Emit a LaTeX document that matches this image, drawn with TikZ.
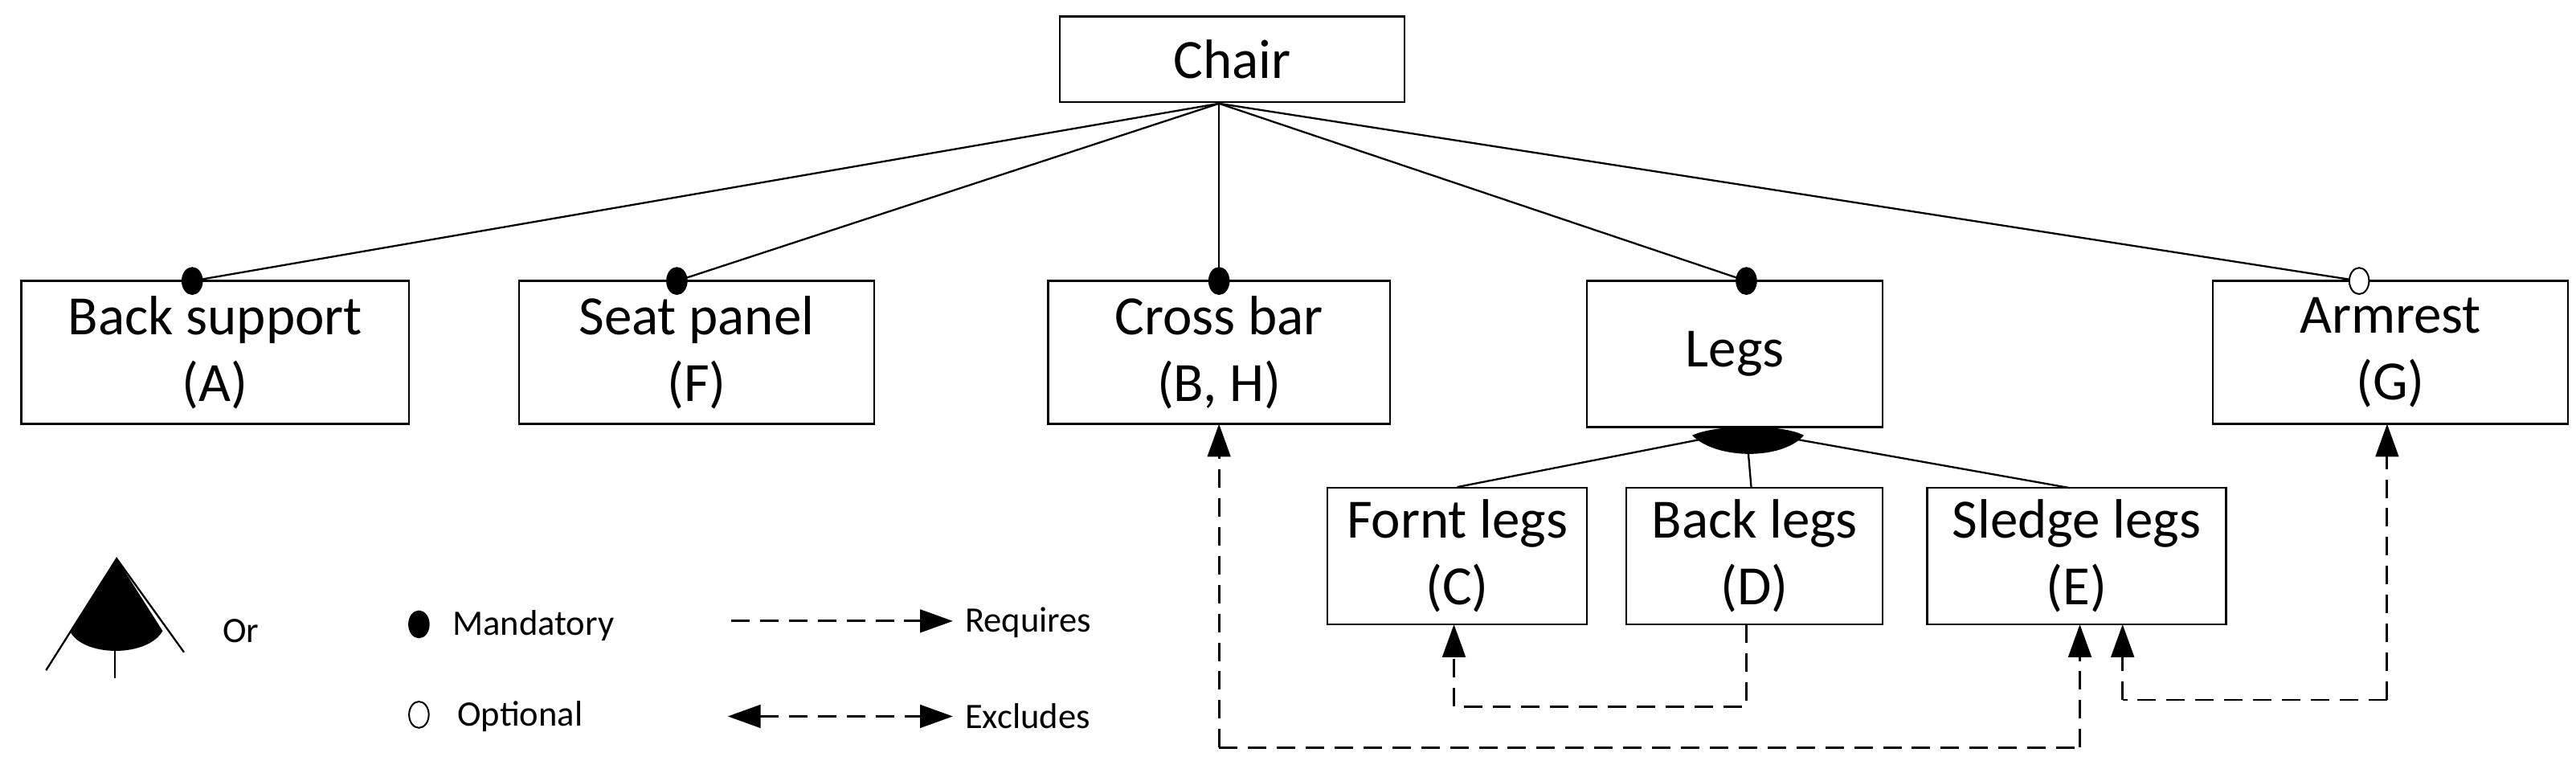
\documentclass[tikz,border=0pt]{standalone}
\usepackage{fontspec}
\setmainfont{Carlito}
\usetikzlibrary{arrows.meta,shapes.geometric}
\begin{document}
\begin{tikzpicture}[x=0.05cm,y=-0.05cm,
  box/.style={draw,line width=1.6pt,inner sep=0pt,font=\fontsize{48}{58}\selectfont,align=center},
  ln/.style={line width=1.6pt},
  dsh/.style={line width=2pt,dash pattern=on 16pt off 9pt},
  tip/.style={-{Triangle[length=1cm,width=0.7cm]}},
  dot/.style={ellipse,draw,line width=1.4pt,minimum width=0.6cm,minimum height=0.8cm,inner sep=0pt},
  lg/.style={font=\fontsize{31}{36}\selectfont,anchor=west}]
\useasboundingbox (0,0) rectangle (1568,468);
\node[box,minimum width=10.5cm,minimum height=2.6cm] (chair) at (750,36) {Chair};
\node[box,minimum width=11.8cm,minimum height=4.35cm] (A) at (131,214.5) {Back support\\(A)};
\node[box,minimum width=10.8cm,minimum height=4.35cm] (F) at (424,214.5) {Seat panel\\(F)};
\node[box,minimum width=10.4cm,minimum height=4.35cm] (B) at (742,214.5) {Cross bar\\(B, H)};
\node[box,minimum width=9cm,minimum height=4.45cm] (L) at (1056,215.5) {Legs};
\node[box,minimum width=10.8cm,minimum height=4.35cm] (G) at (1455,214.5) {Armrest\\(G)};
\node[box,minimum width=7.9cm,minimum height=4.15cm] (C) at (887,338.5) {Fornt legs\\(C)};
\node[box,minimum width=7.8cm,minimum height=4.15cm] (D) at (1068,338.5) {Back legs\\(D)};
\node[box,minimum width=9.1cm,minimum height=4.15cm] (E) at (1264,338.5) {Sledge legs\\(E)};
\coordinate (top) at (742,63);
\coordinate (or) at (1063,262);
\foreach \n/\x in {A/117,F/412,B/742,L/1063}{
  \draw[ln] (top) -- (\x,171);
  \node[dot,fill=black] (m\n) at (\x,171) {};
}
\draw[ln] (top) -- (1436,171);
\node[dot,fill=white] (mG) at (1436,171) {};
\draw[ln] (or) -- (C.north);
\draw[ln] (or) -- (1066,297);
\draw[ln] (or) -- (1260,297);
\fill (1030,265) .. controls (1045,280) and (1085,280) .. (1098,265) .. controls (1085,258) and (1045,258) .. cycle;
\coordinate (d1) at (1063,430);
\coordinate (c1) at (885,430);
\draw[dsh] (1063,380) -- (d1) -- (c1);
\draw[dsh,tip] (c1) -- (885,380);
\coordinate (b1) at (742,455);
\coordinate (e1) at (1266,455);
\draw[dsh,tip] (b1) -- (742,258);
\draw[dsh] (b1) -- (e1);
\draw[dsh,tip] (e1) -- (1266,380);
\coordinate (g1) at (1453,426);
\coordinate (e2) at (1292,426);
\draw[dsh,tip] (g1) -- (1453,258);
\draw[dsh] (g1) -- (e2);
\draw[dsh,tip] (e2) -- (1292,380);
\draw[ln] (28,408) -- (71,340) -- (112,397);
\fill (71,340) -- (43,385) .. controls (52,400) and (90,400) .. (99,384) -- cycle;
\draw[ln] (70,393) -- (70,413);
\node[lg] (lor) at (133,384) {Or};
\node[dot,fill=black] (lm) at (255,380) {};
\node[lg] (lmt) at (273,381) {Mandatory};
\node[dot,fill=white] (lo) at (255,435) {};
\node[lg] (lot) at (276,436) {Optional};
\coordinate (r0) at (445,378);
\coordinate (r1) at (580,378);
\draw[dsh,tip] (r0) -- (r1);
\node[lg] (lrt) at (585,379) {Requires};
\coordinate (x0) at (443,436);
\coordinate (x1) at (580,436);
\draw[dsh,{Triangle[length=1cm,width=0.7cm]}-{Triangle[length=1cm,width=0.7cm]}] (x0) -- (x1);
\node[lg] (lxt) at (585,436) {Excludes};
\end{tikzpicture}
\end{document}
